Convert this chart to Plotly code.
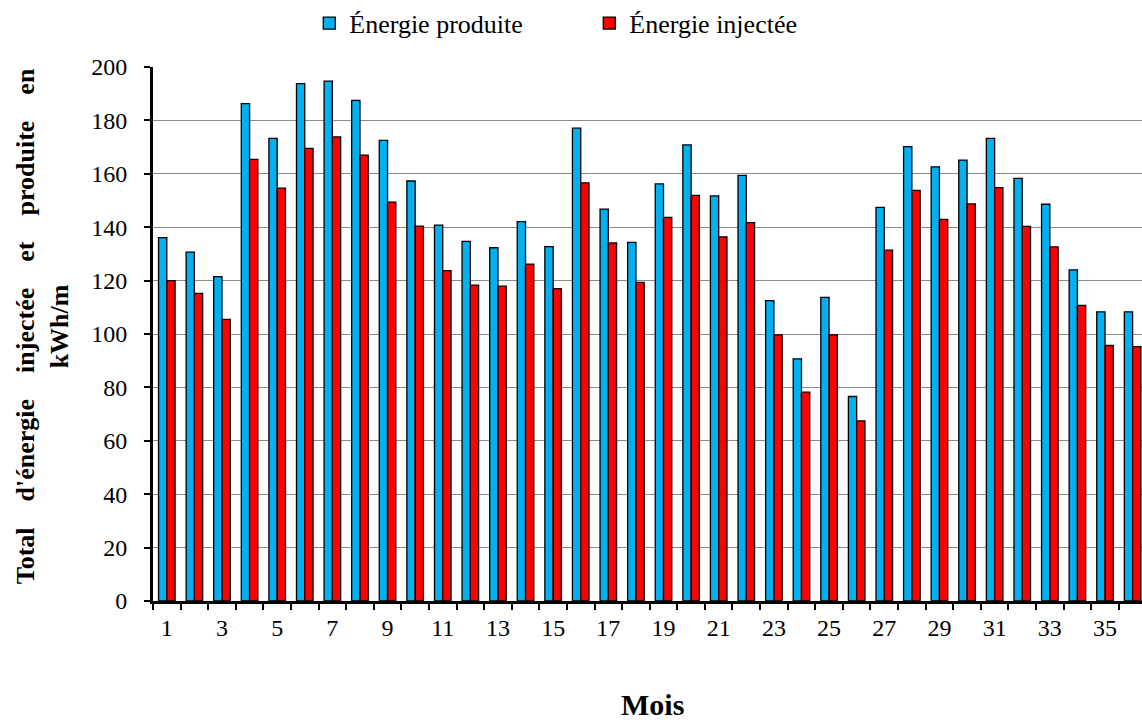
import plotly.graph_objects as go

months = list(range(1, 37))
energie_produite = [136.1, 130.7, 121.5, 186.3, 173.3, 193.8, 194.7, 187.5, 172.5, 157.3,
                    140.8, 134.7, 132.3, 142.1, 132.7, 177.1, 146.8, 134.3, 156.2, 170.8,
                    151.7, 159.4, 112.5, 90.7, 113.7, 76.6, 147.4, 170.2, 162.6, 165.1,
                    173.3, 158.3, 148.6, 124.0, 108.3, 108.3]
energie_injectee = [120.0, 115.2, 105.5, 165.4, 154.6, 169.5, 173.8, 167.0, 149.4, 140.4,
                    123.7, 118.3, 117.9, 126.2, 117.0, 156.6, 134.1, 119.3, 143.7, 151.9,
                    136.4, 141.7, 99.7, 78.2, 99.7, 67.5, 131.4, 153.8, 142.9, 148.7,
                    154.8, 140.3, 132.6, 110.7, 95.7, 95.3]
tick_labels = [str(m) for m in months if m % 2 == 1]
tick_positions = [m for m in months if m % 2 == 1]

FONT = "Liberation Serif, Times New Roman, serif"

# justified-looking title (wide word spacing as in the reference)
WIDE = "\u00a0" * 4
y_title_line1 = WIDE.join(["Total", "d'énergie", "injectée", "et", "produite", "en"])
y_title_line2 = "kWh/m"

fig = go.Figure()
fig.add_trace(go.Bar(x=months, y=energie_produite, name="Énergie produite",
                     marker=dict(color="#00B0F0", line=dict(color="black", width=1.3))))
fig.add_trace(go.Bar(x=months, y=energie_injectee, name="Énergie injectée",
                     marker=dict(color="#FF0000", line=dict(color="black", width=1.3))))

fig.update_layout(
    width=1142, height=724,
    margin=dict(l=153, r=0, t=67, b=123),
    paper_bgcolor="white", plot_bgcolor="white",
    barmode="group", bargap=0.4, bargroupgap=0,
    font=dict(family=FONT, size=24, color="black"),
    legend=dict(orientation="h", xref="container", yref="container",
                x=0.516, xanchor="center", y=0.968, yanchor="middle",
                font=dict(family=FONT, size=26), itemwidth=30,
                entrywidth=235, entrywidthmode="pixels"),
    showlegend=True,
)
fig.update_xaxes(
    automargin=False,
    range=[0.5, 36.34], tickmode="array", tickvals=tick_positions, ticktext=tick_labels,
    ticks="", showgrid=False, showline=True, linecolor="black", linewidth=3,
    tickfont=dict(family=FONT, size=24), ticklabelstandoff=3,
    minor=dict(tickmode="linear", tick0=0.5, dtick=1, ticks="outside", ticklen=6,
               tickwidth=2, tickcolor="black", showgrid=False),
)
fig.update_yaxes(
    automargin=False,
    range=[0, 200], tickmode="linear", tick0=0, dtick=20,
    showgrid=True, gridcolor="#8a8a8a", gridwidth=1.3,
    showline=True, linecolor="black", linewidth=3,
    ticks="outside", ticklen=6, tickwidth=2, tickcolor="black",
    tickfont=dict(family=FONT, size=24), zeroline=False, ticklabelstandoff=12,
)
fig.add_annotation(text=f"<b>{y_title_line1}<br>{y_title_line2}</b>",
                   xref="paper", yref="paper", x=-0.1115, y=0.514, xanchor="center", yanchor="middle",
                   textangle=-90, showarrow=False,
                   font=dict(family=FONT, size=26, color="black"))
fig.add_annotation(text="<b>Mois</b>", xref="paper", yref="paper", x=0.505, y=-0.2285,
                   xanchor="center", yanchor="bottom", showarrow=False,
                   font=dict(family=FONT, size=30, color="black"))

fig.write_html("out.html", config={"displayModeBar": False},
               post_script="document.body.style.margin='0';")
